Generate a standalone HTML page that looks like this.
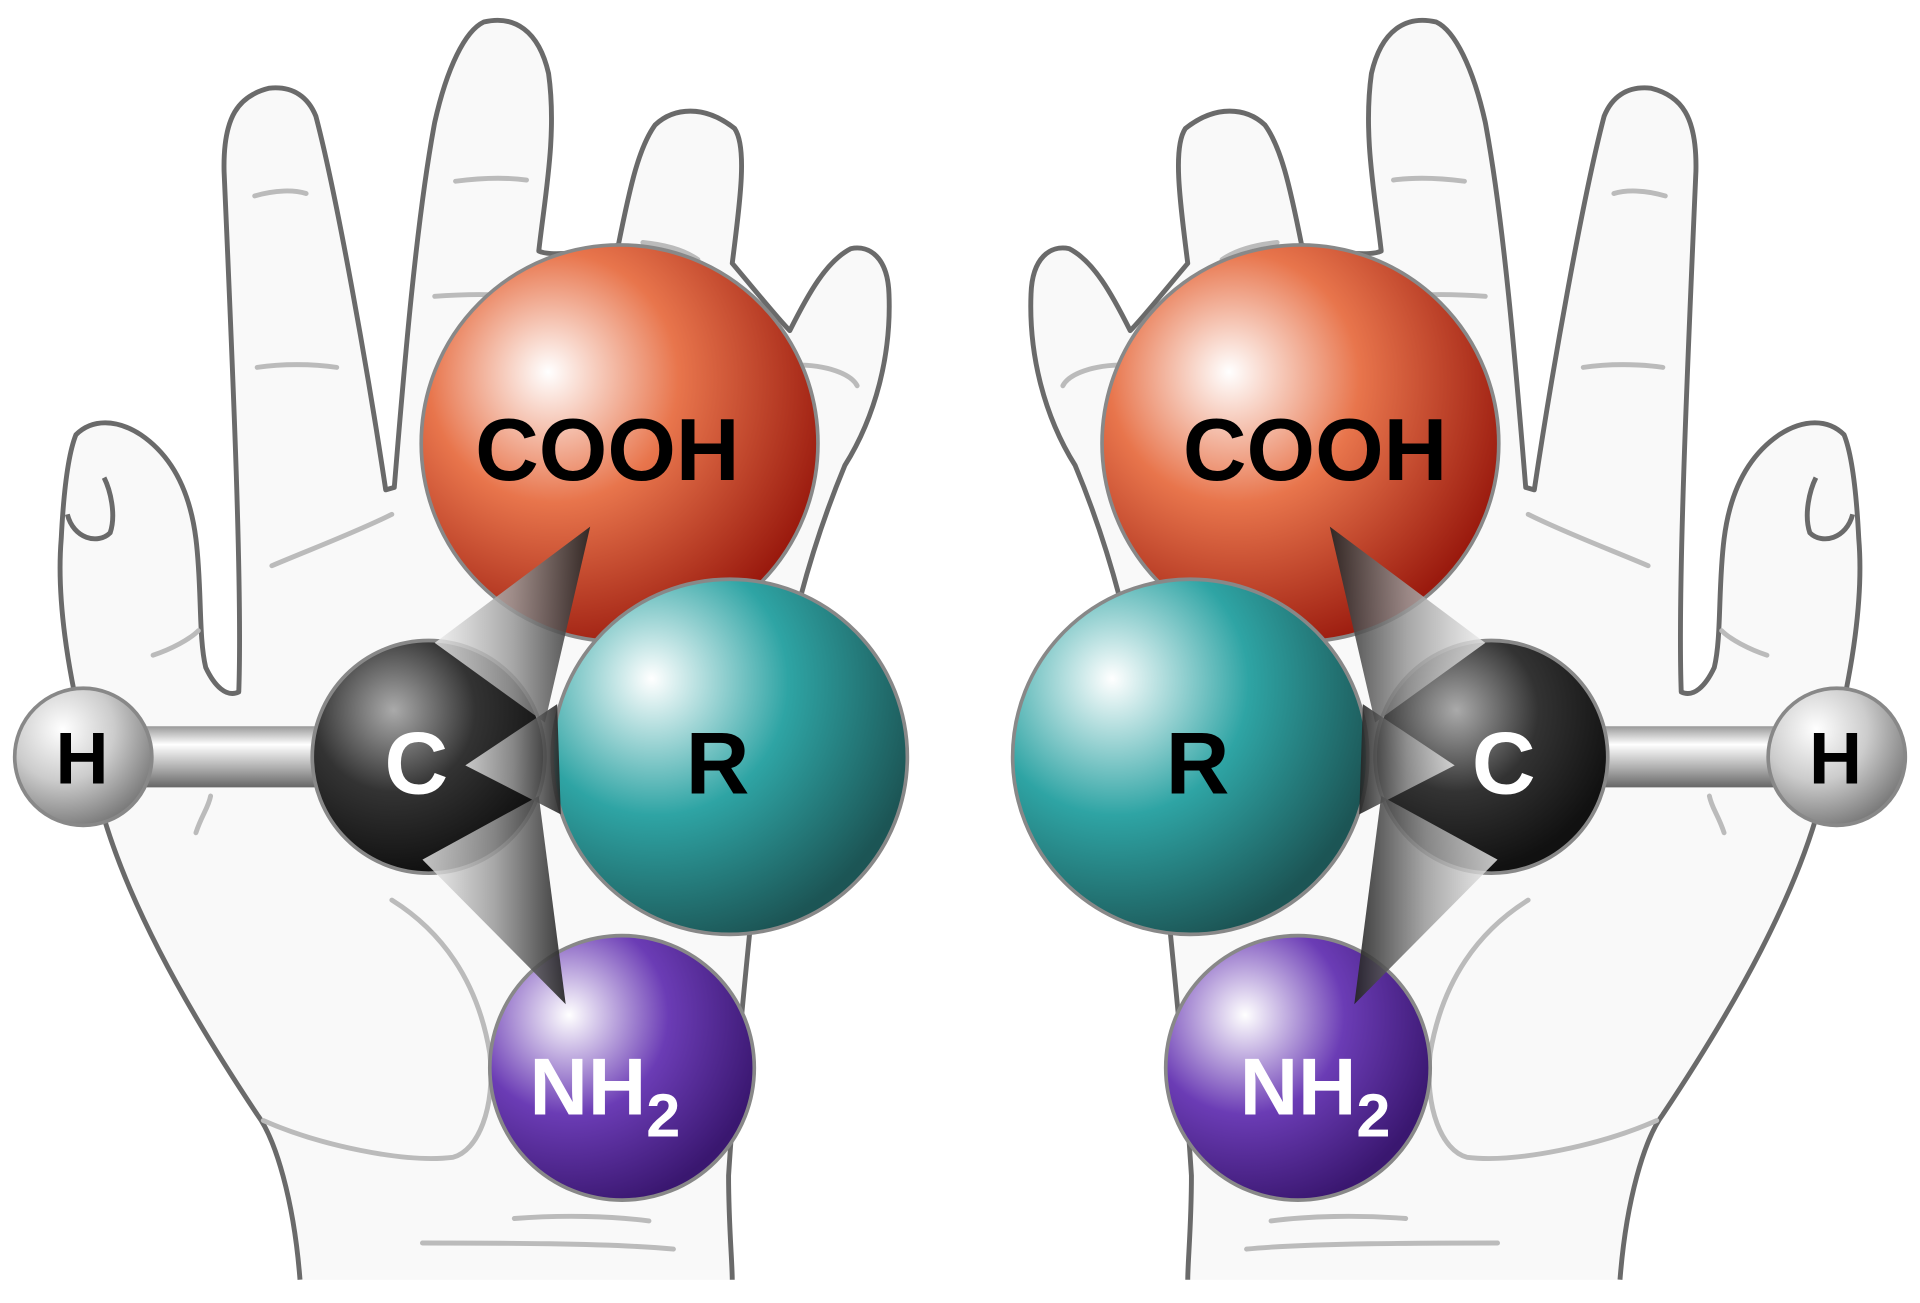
<!DOCTYPE html>
<html><head><meta charset="utf-8"><style>
html,body{margin:0;padding:0;background:#fff;}
svg{display:block;}
text{font-family:"Liberation Sans",Arial,sans-serif;font-weight:bold;}
</style></head><body>
<svg width="1920" height="1303" viewBox="0 0 1568 1064" preserveAspectRatio="none" xmlns="http://www.w3.org/2000/svg">
<defs>
<radialGradient id="gO" cx="0.35" cy="0.35" r="0.7" fx="0.32" fy="0.32"><stop offset="0" stop-color="#fff"/><stop offset="0.45" stop-color="#e8754c"/><stop offset="1" stop-color="#9a1a0e"/></radialGradient>
<radialGradient id="gR" cx="0.3" cy="0.3" r="0.75" fx="0.28" fy="0.28"><stop offset="0" stop-color="#fff"/><stop offset="0.5" stop-color="#2ea4a4"/><stop offset="1" stop-color="#1c5555"/></radialGradient>
<radialGradient id="gC" cx="0.35" cy="0.3" r="0.7"><stop offset="0" stop-color="#aaa"/><stop offset="0.5" stop-color="#333"/><stop offset="1" stop-color="#111"/></radialGradient>
<radialGradient id="gH" cx="0.35" cy="0.3" r="0.75"><stop offset="0" stop-color="#fff"/><stop offset="0.5" stop-color="#ccc"/><stop offset="1" stop-color="#777"/></radialGradient>
<radialGradient id="gN" cx="0.3" cy="0.3" r="0.75"><stop offset="0" stop-color="#fff"/><stop offset="0.5" stop-color="#6b3cb5"/><stop offset="1" stop-color="#3a1770"/></radialGradient>
<radialGradient id="mO" cx="0.65" cy="0.35" r="0.7" fx="0.68" fy="0.32"><stop offset="0" stop-color="#fff"/><stop offset="0.45" stop-color="#e8754c"/><stop offset="1" stop-color="#9a1a0e"/></radialGradient>
<radialGradient id="mR" cx="0.7" cy="0.3" r="0.75" fx="0.72" fy="0.28"><stop offset="0" stop-color="#fff"/><stop offset="0.5" stop-color="#2ea4a4"/><stop offset="1" stop-color="#1c5555"/></radialGradient>
<radialGradient id="mC" cx="0.65" cy="0.3" r="0.7"><stop offset="0" stop-color="#aaa"/><stop offset="0.5" stop-color="#333"/><stop offset="1" stop-color="#111"/></radialGradient>
<radialGradient id="mH" cx="0.65" cy="0.3" r="0.75"><stop offset="0" stop-color="#fff"/><stop offset="0.5" stop-color="#ccc"/><stop offset="1" stop-color="#777"/></radialGradient>
<radialGradient id="mN" cx="0.7" cy="0.3" r="0.75"><stop offset="0" stop-color="#fff"/><stop offset="0.5" stop-color="#6b3cb5"/><stop offset="1" stop-color="#3a1770"/></radialGradient>
<linearGradient id="gBond" x1="0" y1="0" x2="0" y2="1"><stop offset="0" stop-color="#999"/><stop offset="0.3" stop-color="#fff"/><stop offset="0.7" stop-color="#aaa"/><stop offset="1" stop-color="#666"/></linearGradient>
<linearGradient id="gCone" x1="0" y1="0" x2="1" y2="0"><stop offset="0" stop-color="#eee" stop-opacity="0.8"/><stop offset="0.5" stop-color="#999" stop-opacity="0.85"/><stop offset="1" stop-color="#222" stop-opacity="0.9"/></linearGradient>
<g id="hand">
<path d="M245,1045 C240,980 225,930 210,910 C150,820 100,730 80,650 C60,570 45,500 50,440 C52,400 56,370 62,355 C75,342 95,342 115,355 C140,372 155,400 160,440 C165,480 162,520 168,545 C175,560 185,570 195,565 C198,480 190,300 183,140 C182,95 195,78 220,72 C240,70 252,80 258,95 C275,160 300,300 315,400 L322,398 C330,300 340,180 355,100 C365,55 380,25 395,18 C420,12 440,25 448,60 C455,110 445,160 440,205 C450,210 490,205 505,200 C515,150 522,120 535,102 C550,88 575,85 600,105 C610,120 605,160 598,215 C615,235 635,260 645,270 C660,240 675,213 695,203 C710,200 725,210 726,240 C728,290 715,340 690,380 C665,440 640,520 625,640 C612,760 600,880 595,960 C595,1000 598,1030 598,1045" fill="#f9f9f9" stroke="#6a6a6a" stroke-width="4" stroke-linejoin="round"/>
<path d="M55,420 C60,440 80,445 90,435 C95,420 90,400 85,390" fill="none" stroke="#6a6a6a" stroke-width="4"/>
<g fill="none" stroke="#bbb" stroke-width="4" stroke-linecap="round">
<path d="M208,160 C225,155 240,155 250,158"/><path d="M372,148 C395,145 415,145 430,147"/><path d="M525,198 C545,200 560,205 570,212"/>
<path d="M210,300 C230,297 255,297 275,300"/><path d="M355,242 C380,240 405,240 420,242"/><path d="M650,298 C675,298 695,305 700,315"/>
<path d="M222,462 C250,450 290,435 320,420"/><path d="M125,535 C140,530 155,522 162,515"/>
<path d="M320,735 C360,760 390,800 400,860 C405,905 390,940 370,945 C330,950 260,935 215,915"/>
<path d="M345,1015 C400,1015 500,1015 550,1020"/><path d="M420,995 C460,992 500,993 530,997"/>
<path d="M160,680 C165,665 170,660 172,650"/>
</g>
</g>
<g id="molL">
<path d="M68,593 L350,593 L350,643 L68,643 Z" fill="url(#gBond)"/>
<circle cx="68" cy="618" r="56" fill="url(#gH)" stroke="#888" stroke-width="3"/>
<circle cx="506" cy="362" r="162" fill="url(#gO)" stroke="#888" stroke-width="3"/>
<circle cx="350" cy="618" r="95" fill="url(#gC)" stroke="#888" stroke-width="3"/>
<polygon points="482,430 355,525 445,590" fill="url(#gCone)"/>
<circle cx="508" cy="872" r="108" fill="url(#gN)" stroke="#888" stroke-width="3"/>
<circle cx="596" cy="618" r="145" fill="url(#gR)" stroke="#888" stroke-width="3"/>
<polygon points="380,625 455,575 458,665" fill="url(#gCone)"/>
<polygon points="462,820 345,702 440,650" fill="url(#gCone)"/>
</g>
<g id="molR">
<path d="M68,593 L350,593 L350,643 L68,643 Z" fill="url(#gBond)"/>
<circle cx="68" cy="618" r="56" fill="url(#mH)" stroke="#888" stroke-width="3"/>
<circle cx="506" cy="362" r="162" fill="url(#mO)" stroke="#888" stroke-width="3"/>
<circle cx="350" cy="618" r="95" fill="url(#mC)" stroke="#888" stroke-width="3"/>
<polygon points="482,430 355,525 445,590" fill="url(#gCone)"/>
<circle cx="508" cy="872" r="108" fill="url(#mN)" stroke="#888" stroke-width="3"/>
<circle cx="596" cy="618" r="145" fill="url(#mR)" stroke="#888" stroke-width="3"/>
<polygon points="380,625 455,575 458,665" fill="url(#gCone)"/>
<polygon points="462,820 345,702 440,650" fill="url(#gCone)"/>
</g>
</defs>
<rect width="1568" height="1064" fill="#fff"/>
<use href="#hand"/>
<use href="#hand" transform="translate(1568,0) scale(-1,1)"/>
<use href="#molL"/>
<use href="#molR" transform="translate(1568,0) scale(-1,1)"/>
<g text-anchor="middle">
<text x="496" y="392" fill="#000" font-size="72">COOH</text>
<text x="1074" y="392" fill="#000" font-size="72">COOH</text>
<text x="340" y="648" fill="#fff" font-size="72">C</text>
<text x="1228" y="648" fill="#fff" font-size="72">C</text>
<text x="586" y="648" fill="#000" font-size="72">R</text>
<text x="978" y="648" fill="#000" font-size="72">R</text>
<text x="67" y="640" fill="#000" font-size="60">H</text>
<text x="1499" y="640" fill="#000" font-size="60">H</text>
<text x="494" y="910" fill="#fff" font-size="66">NH<tspan font-size="50" dy="18">2</tspan></text>
<text x="1074" y="910" fill="#fff" font-size="66">NH<tspan font-size="50" dy="18">2</tspan></text>
</g>
</svg>
</body></html>
